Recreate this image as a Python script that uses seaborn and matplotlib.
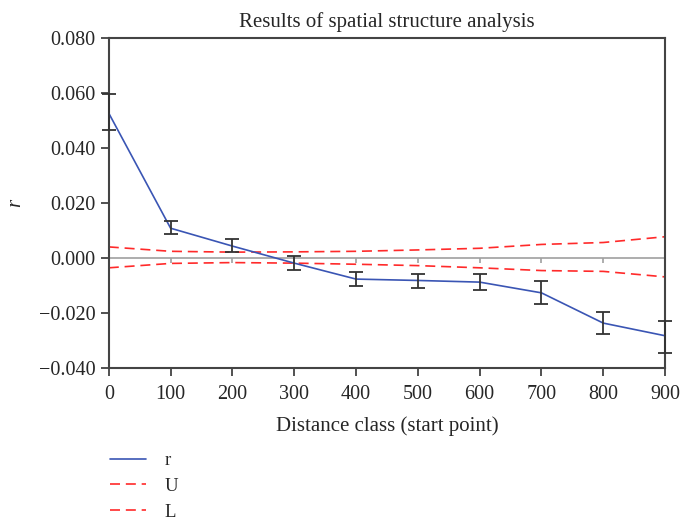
import numpy as np
import pandas as pd
import matplotlib
matplotlib.use('Agg')
import matplotlib.pyplot as plt
import seaborn as sns
from matplotlib.ticker import FuncFormatter

# Datos
distancia = [0, 100, 200, 300, 400, 500, 600, 700, 800, 900]
r = [0.0527, 0.0109, 0.0044, -0.0018, -0.0076, -0.0081, -0.0087, -0.0126, -0.0236, -0.0282]
r_sup = [0.0596, 0.0135, 0.0069, 0.0008, -0.0051, -0.0056, -0.0057, -0.0084, -0.0195, -0.0227]
r_inf = [0.0466, 0.0087, 0.0022, -0.0044, -0.0102, -0.0109, -0.0116, -0.0166, -0.0276, -0.0344]
U = [0.0041, 0.0025, 0.0022, 0.0023, 0.0025, 0.0030, 0.0036, 0.0050, 0.0057, 0.0078]
L = [-0.0035, -0.0019, -0.0016, -0.0018, -0.0022, -0.0027, -0.0035, -0.0045, -0.0048, -0.0068]

df = pd.DataFrame({'dist': distancia, 'r': r, 'U': U, 'L': L})

sns.set_style('ticks')
plt.rcParams['font.family'] = ['Liberation Serif', 'DejaVu Serif']

fig = plt.figure(figsize=(6.8, 5.23), dpi=100)
ax = fig.add_axes([0.160, 0.296, 0.818, 0.631])

# línea de cero con marcas grises
ax.axhline(0, color='#a0a0a0', lw=1.2, zorder=1)
ax.vlines(distancia, -0.0018, 0, color='#a0a0a0', lw=1.2, zorder=1)

sns.lineplot(data=df, x='dist', y='r', ax=ax, color='#3a55b4', lw=1.2, label='r', zorder=3)
sns.lineplot(data=df, x='dist', y='U', ax=ax, color='#ff2a2a', lw=1.2, dashes=(6, 3.5),
             label='U', zorder=2)
sns.lineplot(data=df, x='dist', y='L', ax=ax, color='#ff2a2a', lw=1.2, dashes=(6, 3.5),
             label='L', zorder=2)

err = [np.array(r) - np.array(r_inf), np.array(r_sup) - np.array(r)]
ax.errorbar(distancia, r, yerr=err, fmt='none', ecolor='#333333', elinewidth=1.3,
            capsize=5, capthick=1.3, zorder=4, clip_on=False)

ax.set_xlim(0, 900)
ax.set_ylim(-0.04, 0.08)
ax.set_xticks(distancia)
ax.set_yticks([-0.04, -0.02, 0.0, 0.02, 0.04, 0.06, 0.08])
ax.yaxis.set_major_formatter(FuncFormatter(lambda v, p: f'{v:.3f}'.replace('-', '\u2212')))
ax.tick_params(labelsize=14.5, direction='out', length=6, width=1.2, color='#333333')
ax.tick_params(axis='x', pad=6)

for s in ax.spines.values():
    s.set_linewidth(1.5)
    s.set_color('#444444')

ax.set_title('Results of spatial structure analysis', fontsize=15, pad=8)
ax.set_xlabel('Distance class (start point)', fontsize=15, labelpad=9)
ax.set_ylabel('r', fontsize=15, style='italic', labelpad=10)

ax.legend(loc='upper left', bbox_to_anchor=(0.154, 0.146), bbox_transform=fig.transFigure,
          frameon=False, fontsize=13.5, handlelength=1.9, labelspacing=0.45,
          handletextpad=1.0, borderaxespad=0, borderpad=0.3)

fig.savefig('out.png', dpi=100)
plt.close()
